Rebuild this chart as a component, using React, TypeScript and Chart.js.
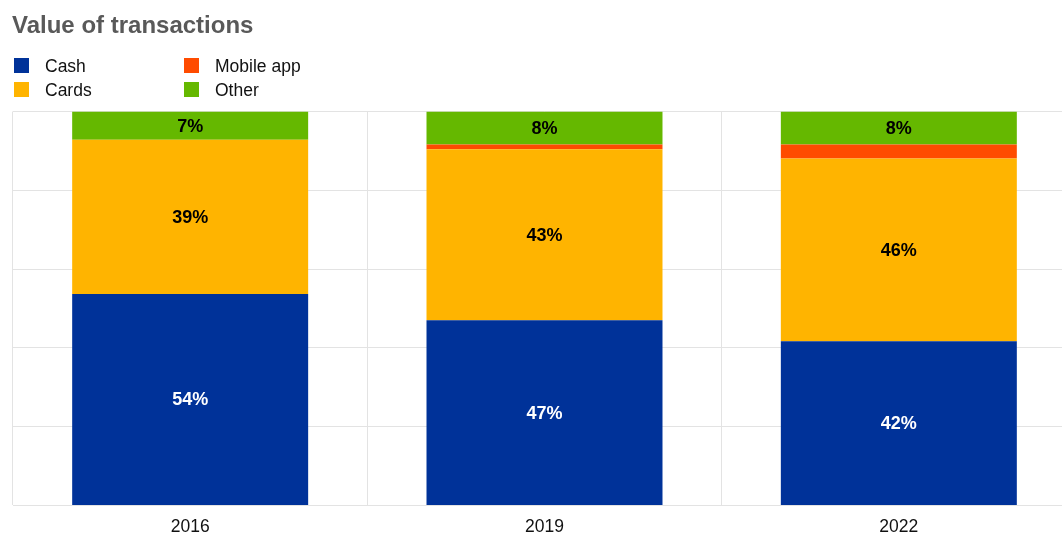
import React, { useEffect, useRef } from "react";
import { Chart, registerables } from "chart.js";

Chart.register(...registerables);

const chartTitle = "Value of transactions";
const years = ["2016", "2019", "2022"];
const seriesNames = ["Cash", "Cards", "Mobile app", "Other"];
const seriesColors = ["#003299", "#FFB400", "#FF4B00", "#65B800"];
const cash = [53.7, 47.0, 41.7];
const cards = [39.1, 43.4, 46.4];
const mobileApp = [0, 1.2, 3.5];
const other = [7.2, 8.4, 8.4];
const yTicks = [0, 20, 40, 60, 80, 100];

const FONT = "'Liberation Sans', Arial, Helvetica, sans-serif";

const titleLegendPlugin = {
  id: "titleLegend",
  afterDraw(chart: any) {
    const ctx = chart.ctx;
    ctx.save();
    ctx.font = `bold 24px ${FONT}`;
    ctx.fillStyle = "#595959";
    ctx.textBaseline = "alphabetic";
    ctx.textAlign = "left";
    ctx.fillText(chartTitle, 12, 32.5);

    // legend: two columns
    const cols = [14, 184];
    const rows = [58, 82];
    const order = [
      { ds: 0, c: 0, r: 0 },
      { ds: 1, c: 0, r: 1 },
      { ds: 2, c: 1, r: 0 },
      { ds: 3, c: 1, r: 1 },
    ];
    ctx.font = `17.5px ${FONT}`;
    ctx.textBaseline = "middle";
    order.forEach((o) => {
      const ds = chart.data.datasets[o.ds];
      const x = cols[o.c];
      const y = rows[o.r];
      ctx.fillStyle = ds.backgroundColor;
      ctx.fillRect(x, y, 15, 15);
      ctx.fillStyle = "#111111";
      ctx.fillText(ds.label, x + 31, y + 9);
    });
    ctx.restore();
  },
};

const dataLabelPlugin = {
  id: "dataLabels",
  afterDatasetsDraw(chart: any) {
    const ctx = chart.ctx;
    ctx.save();
    ctx.font = `bold 18px ${FONT}`;
    ctx.textAlign = "center";
    ctx.textBaseline = "middle";
    chart.data.datasets.forEach((ds: any, i: number) => {
      const meta = chart.getDatasetMeta(i);
      meta.data.forEach((el: any, j: number) => {
        const v = ds.data[j];
        if (v < 5) return;
        ctx.fillStyle = i === 0 ? "#ffffff" : "#000000";
        ctx.fillText(Math.round(v) + "%", el.x, (el.y + el.base) / 2 + 1);
      });
    });
    ctx.restore();
  },
};

export default function App() {
  const ref = useRef<HTMLCanvasElement | null>(null);
  useEffect(() => {
    if (!ref.current) return;
    const seriesData = [cash, cards, mobileApp, other];
    const chart = new Chart(ref.current, {
      type: "bar",
      data: {
        labels: years,
        datasets: seriesNames.map((name, i) => ({
          label: name,
          data: seriesData[i],
          backgroundColor: seriesColors[i],
          borderWidth: 0,
          categoryPercentage: 1,
          barPercentage: 0.666,
        })),
      },
      options: {
        responsive: false,
        animation: false,
        devicePixelRatio: 1,
        layout: { padding: { left: 13, right: 14, top: 111.5, bottom: 10.5 } },
        plugins: {
          legend: { display: false },
          title: { display: false },
          tooltip: { enabled: false },
        },
        scales: {
          x: {
            stacked: true,
            grid: { color: "#e3e3e3", drawTicks: false, offset: true },
            border: { color: "#e3e3e3" },
            ticks: {
              color: "#111111",
              font: { family: FONT, size: 17.5 },
              padding: 11.5,
            },
          },
          y: {
            stacked: true,
            min: 0,
            max: 100,
            afterBuildTicks: (axis: any) => {
              axis.ticks = yTicks.map((v) => ({ value: v }));
            },
            grid: { color: "#e3e3e3", drawTicks: false },
            border: { display: false },
            ticks: { display: false },
          },
        },
      },
      plugins: [titleLegendPlugin, dataLabelPlugin],
    });
    return () => chart.destroy();
  }, []);
  return (
    <div
      style={{
        position: "fixed",
        left: 0,
        top: 0,
        width: 1062,
        height: 534,
        overflow: "hidden",
        background: "#ffffff",
      }}
    >
      <canvas ref={ref} width={1090} height={560} style={{ display: "block" }} />
    </div>
  );
}
